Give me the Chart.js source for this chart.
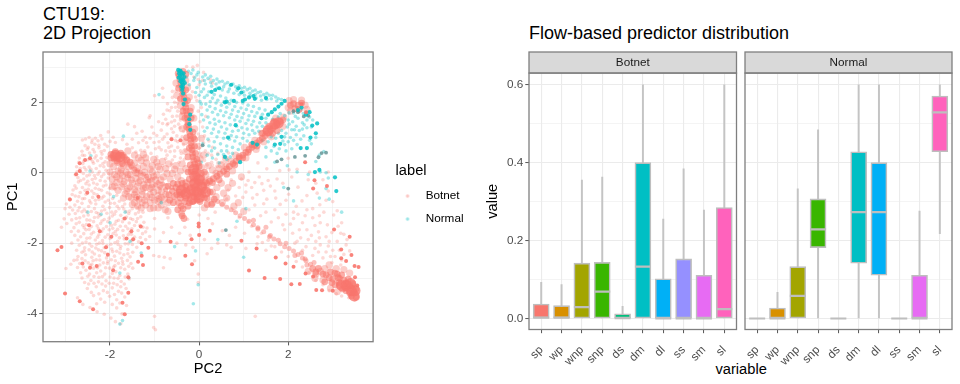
<!DOCTYPE html>
<html>
<head>
<meta charset="utf-8">
<script src="https://cdn.jsdelivr.net/npm/chart.js@4"></script>
<style>
  html, body { margin: 0; padding: 0; background: #fff; }
  body { position: relative; width: 960px; height: 384px; overflow: hidden; font-family: "Liberation Sans", sans-serif; }
  canvas { position: absolute; top: 0; }
  .txt { position: absolute; color: #000; white-space: nowrap; }
</style>
</head>
<body>
<div class="txt" style="left:43px;top:4.5px;font-size:18px;line-height:19.5px">CTU19:<br>2D Projection</div>
<div class="txt" style="left:529px;top:24px;font-size:18px;line-height:19.5px">Flow-based predictor distribution</div>
<div class="txt" style="left:715.5px;top:361px;font-size:14.67px;line-height:17px">variable</div>
<canvas id="projection" width="480" height="384" style="left:0"></canvas>
<canvas id="botnetBox" width="260" height="384" style="left:480px"></canvas>
<canvas id="normalBox" width="220" height="384" style="left:740px"></canvas>
<script>
// labels
const classes = ['Botnet', 'Normal'];
const variables = ['sp', 'wp', 'wnp', 'snp', 'ds', 'dm', 'dl', 'ss', 'sm', 'sl'];
const fillColors = ['#F8766D', '#D89000', '#A3A500', '#39B600', '#00BF7D', '#00BFC4', '#00B0F6', '#9590FF', '#E76BF3', '#FF62BC'];

// ticks
const pc2Ticks = [-3, -2, -1, 0, 1, 2, 3];
const pc1Ticks = [-4, -3, -2, -1, 0, 1, 2, 3];
const valueTicks = [0, 0.1, 0.2, 0.3, 0.4, 0.5, 0.6];
const valueLabelled = [0, 0.2, 0.4, 0.6];

// box plots, one value per variable
const botnetLow = [0, 0, 0, 0, 0, 0, 0, 0, 0, 0];
const botnetQ1 = [0, 0, 0, 0, 0, 0, 0, 0, 0, 0];
const botnetMedian = [0.002, 0.002, 0.029, 0.069, 0.001, 0.133, 0, 0, 0, 0.024];
const botnetQ3 = [0.037, 0.033, 0.142, 0.144, 0.012, 0.4, 0.102, 0.153, 0.111, 0.285];
const botnetHigh = [0.093, 0.087, 0.355, 0.363, 0.031, 0.6, 0.255, 0.384, 0.278, 0.6];

const normalLow = [0, 0, 0, 0, 0, 0, 0, 0, 0, 0.218];
const normalQ1 = [0, 0, 0, 0.182, 0, 0.142, 0.111, 0, 0, 0.428];
const normalMedian = [0, 0, 0.058, 0.229, 0, 0.273, 0.273, 0, 0, 0.529];
const normalQ3 = [0, 0.027, 0.133, 0.307, 0, 0.428, 0.4, 0, 0.111, 0.571];
const normalHigh = [0, 0.067, 0.333, 0.484, 0, 0.6, 0.6, 0, 0.276, 0.6];

// projection points as [PC2, PC1]
const botnetScatter = [
  [-2.62,0.93],[-2.47,1.0],[-2.33,0.98],[-2.21,1.06],[-2.04,1.16],[-1.93,1.01],[-2.56,0.77],[-2.41,0.86],[-2.27,0.91],[-2.12,0.81],[-2.0,0.89],[-2.63,0.61],[-2.51,0.67],[-2.35,0.59],[-2.25,0.71],[-2.13,0.63],
  [-2.69,0.42],[-2.57,0.49],[-2.43,0.38],[-2.31,0.48],[-2.2,0.41],[-2.75,0.17],[-2.61,0.26],[-2.47,0.16],[-2.37,0.27],[-2.22,0.2],[-2.11,0.31],[-2.78,-0.06],[-2.66,0.03],[-2.52,-0.09],[-2.4,0.02],[-2.27,-0.04],[-2.09,0.07],[-2.02,-0.03],
  [-2.71,-0.26],[-2.54,-0.31],[-2.4,-0.19],[-2.29,-0.33],[-2.11,-0.24],[-1.97,-0.3],[-2.83,-0.49],[-2.67,-0.56],[-2.49,-0.47],[-2.36,-0.59],[-2.19,-0.5],[-2.06,-0.57],[-1.89,-0.47],[-2.91,-0.74],[-2.73,-0.81],[-2.57,-0.73],[-2.43,-0.86],[-2.25,-0.76],[-2.11,-0.83],[-1.94,-0.73],[-1.79,-0.81],
  [-3.01,-1.02],[-2.84,-1.06],[-2.69,-0.99],[-2.53,-1.11],[-2.35,-1.02],[-2.19,-1.09],[-2.01,-0.99],[-1.87,-1.1],[-1.69,-1.03],[-1.56,-1.09],[-1.39,-0.99],[-3.03,-1.31],[-2.76,-1.3],[-2.59,-1.23],[-2.45,-1.35],[-2.27,-1.26],[-2.13,-1.33],[-1.95,-1.23],[-1.81,-1.35],[-1.63,-1.26],[-1.49,-1.33],[-1.31,-1.25],
  [-3.09,-1.55],[-2.81,-1.56],[-2.61,-1.49],[-2.47,-1.61],[-2.29,-1.51],[-2.15,-1.59],[-1.97,-1.49],[-1.83,-1.61],[-1.65,-1.52],[-1.51,-1.59],[-1.33,-1.49],[-1.17,-1.57],[-2.79,-1.78],[-2.59,-1.73],[-2.45,-1.85],[-2.25,-1.76],[-2.11,-1.83],[-1.93,-1.73],[-1.79,-1.85],[-1.59,-1.76],[-1.45,-1.83],[-1.27,-1.73],[-1.11,-1.81],
  [-2.86,-2.0],[-2.69,-2.06],[-2.54,-1.97],[-2.41,-2.09],[-2.24,-2.0],[-2.07,-2.07],[-1.89,-1.99],[-1.76,-2.09],[-1.59,-2.02],[-2.63,-2.26],[-2.47,-2.19],[-2.35,-2.31],[-2.19,-2.22],[-2.05,-2.31],[-1.85,-2.23],[-1.69,-2.33],[-1.49,-2.26],[-2.81,-2.49],[-2.63,-2.44],[-2.49,-2.56],[-2.31,-2.47],[-2.15,-2.56],[-1.97,-2.47],[-1.81,-2.57],[-1.61,-2.49],
  [-2.99,-2.72],[-2.73,-2.69],[-2.54,-2.77],[-2.37,-2.71],[-2.21,-2.79],[-2.01,-2.71],[-1.87,-2.81],[-1.67,-2.74],[-1.49,-2.71],[-2.63,-2.99],[-2.43,-3.06],[-2.25,-2.97],[-2.09,-3.07],[-1.91,-2.99],[-1.75,-3.09],[-1.57,-3.02],[-2.51,-3.29],[-2.31,-3.24],[-2.15,-3.35],[-1.95,-3.27],[-1.81,-3.37],[-1.64,-3.29],
  [-2.73,-3.55],[-2.37,-3.49],[-2.21,-3.59],[-2.01,-3.51],[-1.85,-3.61],[-1.67,-3.53],[-2.61,-3.74],[-2.45,-3.83],[-2.29,-3.95],[-2.13,-4.02],[-1.98,-4.13],[-1.85,-3.84],[-1.73,-4.01],[-1.63,-3.77],[-1.88,-4.23],[-1.76,-4.29],[-1.02,-4.4],[-0.98,-4.46],[-1.0,-4.08],[1.26,-4.08],
  [-1.31,0.64],[-1.15,0.73],[-1.36,0.85],[-1.01,0.86],[-1.21,1.01],[-0.95,1.06],[-1.45,1.31],[-1.6,1.38],[-1.06,1.3],[-0.85,1.21],[-0.72,1.36],[-0.91,1.45],[-0.62,1.44],[-1.12,1.56],[-0.8,1.66],[-1.1,1.62],[-0.66,1.76],[-0.5,1.61],[-0.53,1.86],[-0.71,1.96],[-0.81,2.14],[-1.0,2.19],[-0.45,2.09],[-0.6,2.31],[-0.82,2.4],[-0.48,2.45],[-0.72,1.1],[-0.58,1.15],[-0.43,1.28],[-0.7,0.85],[-0.53,0.92],[-0.38,1.02],[-0.85,0.65],[-0.65,0.6],[-0.48,0.72],[-0.35,0.8],[-0.95,0.45],[-0.75,0.4],[-0.55,0.46],[-0.4,0.55],[-0.82,0.2],[-0.62,0.25],[-0.45,0.3],[-0.33,0.38],[-0.7,1.4],[-0.42,1.5],[-0.38,1.82],[-0.55,2.0],[-0.62,0.98],
  [-0.04,3.05],[-0.14,3.0],[-0.28,3.02],[0.1,2.85],[0.25,2.65],[0.0,2.5],[-0.15,2.3],[-0.05,2.05],[0.05,1.85],[-0.12,1.6],[0.08,1.3],[-0.02,1.1],[0.1,0.85],[0.0,0.7],[0.2,0.55],[0.28,0.3],[0.4,0.18],[0.55,0.45],[0.12,0.35],
  [2.0,0.41],[2.2,0.1],[2.48,0.02],[2.62,-0.3],[2.22,-0.41],[2.9,-0.52],[3.0,-0.82],[2.71,-0.91],[2.31,-0.8],[2.01,-0.61],[1.7,-0.52],[1.41,-0.31],[1.12,0.02],[1.52,0.11],[1.81,0.06],[2.08,-0.12],[1.32,0.28],[0.95,-0.18],[1.18,-0.42],[1.52,-0.75],[1.82,-0.9],[2.12,-1.12],[2.42,-1.05],[2.7,-1.22],[3.02,-1.2],[3.12,-1.52],[2.88,-1.48],[2.6,-1.5],[2.32,-1.42],[2.05,-1.46],[1.78,-1.28],[1.5,-1.12],[1.25,-0.92],[0.98,-0.7],[3.25,-1.75],[3.1,-1.95],[2.85,-1.82],[2.52,-1.78],[3.3,-2.05],[3.0,-2.2],[3.38,-2.22],[2.72,-2.05],
  [0.52,-1.65],[0.3,-1.45],[0.68,-1.78],[0.82,-1.55],[1.02,-1.72],[0.42,-2.0],[0.62,-2.05],[0.12,-1.9],[0.28,-2.15],[1.05,-2.15],[1.32,-1.82],[1.62,-2.08],[0.9,-1.28],[1.18,-1.52],[0.72,-2.12],[0.18,-2.3],[-0.02,-2.88],[-0.02,-3.12],[-0.1,-2.5],
  [-1.02,-2.35],[-0.9,-2.38],[-0.78,-2.4],[-0.65,-2.44],[-1.0,-1.6],[-0.8,-1.7],[-0.62,-1.55],[-0.44,-1.72],[-0.32,-1.55],[-0.2,-1.78],[-0.88,-1.95],[-0.5,-2.0],[-0.3,-2.05],[-0.14,-2.12],[-0.8,-2.7],[-1.0,-1.3],[-0.7,-1.28],[-0.26,-1.32],[0.0,-1.2],[0.2,-1.3],[0.36,-1.12],
  [-2.34,0.81],[-2.18,0.96],[-2.49,0.72],[-2.06,0.75],[-1.88,0.86],[-1.72,0.94],[-1.62,0.81],[-1.5,0.71],[-1.42,0.59],[-2.46,0.56],[-2.18,0.53],[-2.39,0.32],[-2.28,0.34],[-2.07,0.43],[-2.59,0.33],[-2.67,0.12],[-2.54,0.08],[-2.31,0.12],[-2.14,0.17],[-2.72,-0.14],[-2.59,-0.18],[-2.46,-0.06],[-2.33,-0.16],[-2.19,-0.11],[-2.04,-0.15],
  [-2.79,-0.37],[-2.62,-0.42],[-2.47,-0.35],[-2.33,-0.44],[-2.15,-0.38],[-2.01,-0.44],[-2.85,-0.62],[-2.7,-0.68],[-2.54,-0.61],[-2.39,-0.7],[-2.29,-0.63],[-2.14,-0.67],[-2.0,-0.61],[-1.85,-0.64],[-2.98,-0.89],[-2.79,-0.92],[-2.63,-0.87],[-2.48,-0.96],[-2.32,-0.89],[-2.16,-0.95],[-1.99,-0.87],[-1.84,-0.95],[-1.67,-0.89],
  [-2.92,-1.18],[-2.78,-1.16],[-2.63,-1.11],[-2.49,-1.2],[-2.31,-1.13],[-2.22,-1.21],[-2.07,-1.15],[-1.9,-1.18],[-1.76,-1.21],[-1.58,-1.16],[-1.43,-1.17],[-1.26,-1.12],[-2.97,-1.44],[-2.69,-1.41],[-2.53,-1.47],[-2.37,-1.39],[-2.21,-1.44],[-2.05,-1.39],[-1.89,-1.46],[-1.72,-1.39],[-1.57,-1.43],[-1.41,-1.39],[-1.24,-1.41],
  [-2.87,-1.67],[-2.71,-1.66],[-2.54,-1.62],[-2.37,-1.69],[-2.19,-1.67],[-2.02,-1.62],[-1.88,-1.67],[-1.71,-1.64],[-1.55,-1.69],[-1.37,-1.64],[-1.2,-1.68],[-2.72,-1.91],[-2.52,-1.86],[-2.33,-1.91],[-2.17,-1.93],[-2.0,-1.87],[-1.83,-1.95],[-1.68,-1.88],[-1.51,-1.93],[-1.36,-1.96],[-1.2,-1.9],
  [-2.75,-2.2],[-2.57,-2.13],[-2.32,-2.14],[-2.13,-2.13],[-1.96,-2.17],[-1.77,-2.16],[-1.6,-2.18],[-1.4,-2.12],[-2.72,-2.38],[-2.55,-2.33],[-2.41,-2.4],[-2.24,-2.36],[-2.08,-2.42],[-1.9,-2.37],[-1.74,-2.43],[-1.55,-2.39],[-2.88,-2.6],[-2.68,-2.58],[-2.41,-2.6],[-2.23,-2.62],[-2.06,-2.58],[-1.89,-2.64],[-1.71,-2.6],[-1.53,-2.58],
  [-2.66,-2.84],[-2.46,-2.88],[-2.3,-2.84],[-2.12,-2.88],[-1.95,-2.86],[-1.78,-2.92],[-1.6,-2.88],[-2.57,-3.12],[-2.36,-3.14],[-2.18,-3.16],[-2.02,-3.14],[-1.84,-3.18],[-1.68,-3.16],[-2.42,-3.4],[-2.25,-3.44],[-2.06,-3.4],[-1.9,-3.46],[-1.74,-3.42],[-2.3,-3.72],[-2.12,-3.68],[-1.95,-3.74],[-1.78,-3.7],
  [-0.78,1.02],[-0.62,0.76],[-0.48,0.88],[-0.9,0.88],[-0.75,0.62],[-0.6,0.36],[-0.42,0.42],[-0.5,1.05],[-0.55,1.32],[-0.35,1.18],[-0.82,1.4],[-0.6,1.6],[-0.4,1.68],[-0.72,1.78],[-0.48,1.98],[-0.6,2.14],[-0.42,2.22],[-0.52,2.32],[-1.02,1.12],[-1.28,1.18],[-1.18,0.85],[-1.08,0.55],[-0.9,0.72],[-1.22,0.62],
  [0.02,0.55],[0.14,0.62],[0.28,0.5],[0.38,0.38],[0.5,0.3],[0.12,1.05],[0.02,1.45],[-0.02,1.75],[0.3,0.72],[0.22,0.9],[0.42,0.55],[0.66,0.56],[0.15,1.6],[-0.08,2.15],[-0.02,2.65],[0.3,2.55],[-0.12,2.72],[0.08,2.62],[2.9,0.02],[2.78,-0.2],[2.45,-0.2],[2.02,0.08],[1.75,-0.18],
  [0.72,-0.2],[0.9,-0.42],[0.65,-0.5],[0.82,-0.66],[1.05,-0.55],[1.3,-0.62],[1.6,-0.38],[1.88,-0.3],[1.35,-0.12],[1.1,-0.22],[1.72,-0.72],[1.95,-0.78],[2.18,-0.95],[2.42,-0.65],[2.65,-0.58],[2.85,-0.78],[2.55,-1.02],[2.8,-1.12],[3.1,-1.08],[2.38,-1.22],[2.12,-1.3],[1.88,-1.48],[1.62,-1.4],[1.38,-1.22],[1.12,-1.05],
  [2.42,-1.62],[2.68,-1.68],[2.98,-1.7],[3.18,-1.72],[2.92,-1.95],[2.7,-1.85],[2.45,-1.9],[2.28,-1.85],[2.1,-1.72],[1.92,-1.62],[2.4,-2.1],[2.6,-2.15],[2.85,-2.25],[3.05,-2.38],[3.25,-2.32],[2.2,-1.95],[2.15,-2.0],[2.78,-2.42],[2.98,-2.55],[3.18,-2.62],[2.55,-2.35],[2.32,-2.2],
  [1.3,-2.02],[1.42,-1.98],[1.55,-1.92],[1.7,-2.1],[1.85,-2.25],[2.0,-2.38],[2.18,-2.52],[2.32,-2.68],[2.46,-2.84],[2.62,-3.06],[2.78,-3.18],[2.92,-3.35],[3.08,-3.44],[3.2,-3.5],[3.36,-3.55],[3.5,-3.62],[1.5,-2.2],[1.4,-1.72],[1.1,-1.4],[0.78,-1.08],[0.62,-0.75],
  [-2.55,0.96],[-2.4,0.93],[-2.25,0.78],[-2.38,0.66],[-2.2,0.6],[-2.62,0.5],[-2.5,0.37],[-2.34,0.42],[-2.16,0.26],[-2.7,0.3],[-2.58,0.15],[-2.43,0.1],[-2.24,0.03],[-2.74,0.03],[-2.6,-0.02],[-2.35,-0.08],[-2.14,-0.04],[-2.66,-0.22],[-2.5,-0.24],[-2.37,-0.29],[-2.22,-0.22],[-2.76,-0.44],[-2.56,-0.5],[-2.41,-0.52],[-2.25,-0.47],[-2.09,-0.35],[-2.78,-0.66],[-2.62,-0.74],[-2.46,-0.8],[-2.33,-0.78],[-2.18,-0.72],[-2.04,-0.78],[-1.9,-0.87],[-1.72,-0.96],[-2.9,-0.98],[-2.72,-1.08],[-2.58,-1.05],[-2.42,-1.1],[-2.26,-1.16],[-2.12,-1.05],[-1.96,-1.12],[-1.8,-1.02],[-1.64,-1.1],[-1.5,-1.02],[-1.36,-1.12],
  [-2.86,-1.34],[-2.68,-1.28],[-2.52,-1.34],[-2.35,-1.27],[-2.18,-1.37],[-2.02,-1.29],[-1.86,-1.38],[-1.7,-1.3],[-1.54,-1.3],[-1.38,-1.3],[-2.76,-1.45],[-2.58,-1.56],[-2.42,-1.53],[-2.26,-1.59],[-2.08,-1.53],[-1.94,-1.58],[-1.77,-1.52],[-1.6,-1.59],[-1.45,-1.5],[-1.26,-1.55],[-2.66,-1.82],[-2.42,-1.74],[-2.28,-1.83],[-2.05,-1.76],[-1.86,-1.77],[-1.7,-1.79],[-1.52,-1.75],[-1.32,-1.84],[-2.62,-2.0],[-2.46,-2.02],[-2.3,-2.03],[-2.16,-2.01],[-1.98,-2.03],[-1.82,-2.04],[-1.66,-2.02],[-1.5,-2.04],[-2.58,-2.22],[-2.4,-2.25],[-2.26,-2.19],[-2.12,-2.27],[-1.94,-2.24],[-1.78,-2.28],[-1.6,-2.3],
  [-2.74,-2.47],[-2.56,-2.5],[-2.38,-2.5],[-2.23,-2.48],[-2.05,-2.52],[-1.88,-2.5],[-1.72,-2.52],[-2.6,-2.68],[-2.44,-2.64],[-2.28,-2.7],[-2.1,-2.7],[-1.92,-2.68],[-1.76,-2.7],[-1.58,-2.66],[-2.5,-2.94],[-2.36,-2.95],[-2.17,-2.95],[-2.0,-2.96],[-1.82,-3.0],[-1.66,-2.96],[-2.48,-3.16],[-2.26,-3.1],[-2.1,-3.22],[-1.92,-3.14],[-1.76,-3.24],
  [-1.5,0.95],[-1.4,1.12],[-1.26,0.92],[-1.1,0.98],[-0.98,0.68],[-0.82,0.95],[-0.68,0.72],[-0.55,0.62],[-0.72,0.5],[-0.42,0.62],[-0.62,1.25],[-0.46,1.38],[-0.75,1.52],[-0.55,1.48],[-0.48,1.75],[-0.62,1.85],[-0.3,0.62],[-0.3,1.38],[0.18,0.22],[0.3,0.22],[0.42,0.28],[1.55,-0.22],[1.25,-0.28],[1.05,-0.35],[1.45,-0.5],[1.2,-0.72],[1.45,-0.88],[1.7,-1.05],[1.95,-1.18],[2.22,-1.18],[2.25,-1.62],[2.72,-1.42],[2.55,-1.28],[3.2,-1.42],[3.32,-1.9],[3.15,-2.2],[2.9,-2.08],[2.62,-1.95],[3.2,-2.48],[2.95,-2.38],[2.68,-2.25]
];

const botnetCloud = [
  [-1.9,0.4],[-1.78,0.28],[-1.64,0.38],[-1.92,0.18],[-1.75,0.1],[-1.58,0.16],[-1.45,0.28],[-1.3,0.35],[-1.18,0.28],[-1.05,0.2],[-1.9,-0.05],[-1.72,-0.08],[-1.55,-0.05],[-1.38,-0.02],[-1.22,0.02],[-1.05,0.02],[-0.88,0.1],[-1.85,-0.28],[-1.68,-0.25],[-1.5,-0.3],[-1.32,-0.22],[-1.15,-0.28],[-0.98,-0.2],[-0.8,-0.12],[-1.82,-0.5],[-1.62,-0.52],[-1.45,-0.48],[-1.28,-0.52],[-1.1,-0.45],[-0.92,-0.5],[-0.75,-0.4],[-1.7,-0.72],[-1.52,-0.7],[-1.35,-0.75],[-1.18,-0.68],[-1.0,-0.78],[-0.85,-0.7],[-1.38,-0.95],[-1.2,-0.92],[-1.02,-1.0],[-0.85,-0.92],[-0.7,-0.85],[-0.95,0.3],[-0.75,0.12],[-0.55,0.1],[-1.45,0.5],[-1.25,0.52],[-1.6,0.62],
  [-1.84,0.3],[-1.7,0.2],[-1.52,0.22],[-1.38,0.14],[-1.25,0.18],[-1.1,0.1],[-1.82,0.05],[-1.64,0.02],[-1.46,0.08],[-1.3,-0.1],[-1.14,-0.12],[-0.95,-0.06],[-1.78,-0.18],[-1.6,-0.15],[-1.42,-0.16],[-1.24,-0.34],[-1.05,-0.34],[-0.88,-0.35],[-1.74,-0.4],[-1.55,-0.4],[-1.38,-0.38],[-1.2,-0.42],[-1.02,-0.55],[-0.84,-0.55],[-1.66,-0.6],[-1.45,-0.62],[-1.28,-0.62],[-1.1,-0.62],[-0.92,-0.65],[-1.45,-0.85],[-1.28,-0.85],[-1.1,-0.85],[-0.92,-0.82],[-0.78,-0.75],[-2.0,0.25],[-2.0,0.02],[-1.95,-0.18],[-1.95,-0.4],
  [0.15,-0.05],[0.3,0.08],[0.2,0.2],[0.1,0.5],[0.05,0.15],[0.45,0.12],[0.38,-0.02],[0.6,0.18],[0.22,-0.2],[0.5,-0.3],[0.75,-0.3],[0.95,-0.12],[0.3,-0.55],[0.55,-0.58],[0.3,-0.85],[0.52,-0.85],[0.78,-0.95],[1.0,-1.1],[0.12,-1.0],[-0.4,-1.15],[-0.7,-1.1],[0.75,0.05],[0.6,0.38],
  [0.4,-0.42],[0.65,-0.42],[0.18,-0.35],[0.38,-0.68],[0.62,-0.72],[0.88,-0.85],[0.02,0.4],[-0.3,0.12],[-0.38,0.25],[-0.3,0.6],[-0.02,0.75],[0.05,0.98],[-0.32,0.88],[-0.38,1.25],[-0.1,1.25],[-0.12,1.55],[-0.38,1.6],[-0.18,1.85],[-0.42,1.9],[-0.22,2.15],[-0.5,2.2],[-0.26,2.42],[-0.52,2.55],[-0.3,2.62],
  [2.72,-2.8],[2.82,-2.72],[2.62,-2.88],[2.92,-2.62],[3.08,-2.72],[3.25,-2.75],[3.38,-2.85],[2.78,-3.05],[2.95,-3.28],[3.1,-3.38],[2.6,-3.0],[2.45,-2.8],
  [1.02,0.72],[1.25,0.92],[1.4,1.12],[1.55,1.3],[1.45,0.88],[1.62,1.02],[1.28,0.66],[1.05,0.42],[0.82,0.5],[0.72,0.32],[0.5,0.22],[1.88,1.32],[1.9,1.58],[1.72,1.55],[2.02,2.05],[2.12,2.08],[2.3,2.06],[2.38,1.92],[2.0,1.85],[2.42,1.8],[2.05,1.75],
  [-1.76,0.0],[-1.6,-0.05],[-1.42,0.0],[-1.85,-0.12],[-1.7,-0.32],[-1.52,-0.2],[-1.36,-0.28],[-1.18,-0.2],[-1.02,-0.1],[-1.9,-0.38],[-1.6,-0.45],[-1.42,-0.55],[-1.25,-0.44],[-1.06,-0.42],[-0.86,-0.2],[-1.58,-0.68],[-1.4,-0.7],[-1.22,-0.78],[-1.06,-0.7],[-0.9,-0.74],[-0.75,-0.62],[-1.3,-1.0],[-1.1,-1.02],[-0.92,-1.0],[-0.76,-1.05],[-1.5,-0.9],[-1.2,0.42],[-1.02,0.38],[-0.82,0.32],[-1.36,0.42],[-0.92,0.18],[-0.68,0.25],[-0.6,-0.02],[-0.48,-0.12],[-0.65,-0.18],[-0.42,0.05],[-0.52,0.2],[-0.4,-0.22],[-0.72,-0.02]
];

// thin arms: blob towards the hub, hub towards the lower right corner
const botnetBand = [
  [-0.62,-0.42],[-0.75,-0.48],[-0.82,-0.32],[-0.88,-0.42],[-0.92,-0.28],[-0.98,-0.35],[-1.05,-0.18],[-1.12,-0.22],[-1.18,-0.1],[-1.25,-0.04],[-1.32,0.02],[-1.38,0.06],[-1.45,0.1],[-1.52,0.16],[-1.58,0.24],[-1.65,0.3],
  [0.42,-0.82],[0.52,-0.9],[0.62,-0.98],[0.72,-1.05],[0.82,-1.14],[0.92,-1.22],[1.02,-1.3],[1.12,-1.38],[1.22,-1.48],[1.32,-1.56],[1.45,-1.68],[1.58,-1.82],[1.68,-1.88],[1.82,-2.02],[1.92,-2.1],[2.02,-2.15],[2.12,-2.22],[2.22,-2.32],[2.32,-2.42],[2.4,-2.5],[2.5,-2.6],
  [1.22,-1.35],[1.5,-1.55],[1.32,-1.6],[1.6,-1.78],[1.78,-1.92],[1.95,-2.0],[2.15,-2.35],[2.3,-2.28],[2.42,-2.62],[2.58,-2.55],[2.38,-2.45]
];

const botnetDense = [
  [-0.06,-0.35],[-0.08,-0.15],[-0.09,0.05],[-0.1,0.25],[-0.14,0.45],[-0.16,0.65],[-0.18,0.85],[-0.2,1.05],[-0.23,1.25],[-0.25,1.45],[-0.27,1.65],[-0.3,1.85],[-0.33,2.05],[-0.36,2.25],[-0.39,2.45],[-0.43,2.65],[-0.47,2.82],[-0.36,2.88],[-0.3,2.8],
  [-0.04,-0.25],[-0.1,-0.05],[-0.07,0.15],[-0.12,0.35],[-0.15,0.55],[-0.17,0.75],[-0.19,0.95],[-0.21,1.15],[-0.24,1.35],[-0.26,1.55],[-0.29,1.75],[-0.31,1.95],[-0.34,2.15],[-0.38,2.35],[-0.41,2.55],[-0.45,2.75],[-0.14,1.15],[-0.28,1.3],[-0.2,1.75],[-0.36,1.75],[-0.26,2.05],[-0.42,2.1],[-0.3,2.35],[-0.46,2.4],
  [-0.02,0.0],[-0.18,0.02],[0.0,0.18],[-0.2,0.22],[-0.05,0.38],[-0.22,-0.18],[0.06,-0.15],[-0.25,0.45],[-0.08,0.55],[-0.13,1.0],[-0.28,1.0],[-0.18,1.55],[-0.32,1.55],[0.05,-0.02],[-0.25,0.02],[-0.15,-0.28],[-0.02,0.28],[-0.22,0.7],[-0.1,0.75],[-0.1,0.95],[0.12,0.02],[0.14,-0.25],[0.02,-0.28],[-0.3,-0.28],
  [0.1,-0.35],[0.24,-0.24],[0.4,-0.1],[0.55,0.04],[0.68,0.18],[0.83,0.33],[0.98,0.5],[1.12,0.66],[1.24,0.78],[1.36,0.92],[1.48,1.05],[1.6,1.2],[1.7,1.33],[1.82,1.46],[1.68,1.45],[1.75,1.2],[1.5,1.18],[1.18,0.8],[0.9,0.46],
  [0.17,-0.3],[0.32,-0.17],[0.47,-0.03],[0.62,0.11],[0.76,0.26],[0.9,0.41],[1.05,0.58],[1.18,0.72],[1.3,0.85],[1.42,0.98],[1.54,1.12],[1.65,1.26],[1.76,1.4],[1.58,1.32],[1.42,1.12],[1.1,0.58],[0.8,0.22],[0.3,-0.28],[0.45,-0.2],[0.62,-0.04],[1.3,0.76],[1.65,1.12],[1.88,1.5],[0.98,0.42],
  [0.0,-0.45],[-0.08,-0.58],[-0.02,-0.68],[-0.15,-0.55],[-0.22,-0.65],[-0.05,-0.78],[0.08,-0.62],[0.18,-0.72],[-0.28,-0.48],[-0.12,-0.42],[0.12,-0.5],[-0.35,-0.6],[-0.38,-0.42],[-0.45,-0.55],[-0.52,-0.42],[-0.6,-0.52],[-0.7,-0.38],
  [0.04,-0.55],[-0.05,-0.48],[-0.12,-0.68],[-0.3,-0.72],[-0.2,-0.42],[0.12,-0.72],[0.02,-0.82],[-0.14,-0.82],[-0.42,-0.62],[-0.3,-0.38],[-0.5,-0.62],[-0.58,-0.3],[-0.48,-0.32],[-0.38,-0.3],
  [-0.42,-0.72],[-0.55,-0.68],[-0.68,-0.62],[-0.32,-0.82],[-0.36,-1.02],[-0.38,-1.22],[-0.4,-0.95],[-0.25,-0.95],[-0.58,-0.85],[0.25,-0.55],[0.18,-0.9],[0.34,-0.75],[-0.48,-1.05],[-0.34,-1.3],[-0.46,-0.85],[-0.22,-0.85],[-0.66,-0.78],[0.28,-0.9],
  [-1.98,0.52],[-1.88,0.6],[-1.8,0.48],[-1.92,0.42],[-1.76,0.56],[-1.68,0.44],[-1.85,0.34],[-1.98,0.42],[-1.72,0.26],[-1.9,0.5],[-1.82,0.42],[-1.72,0.5],[-1.62,0.36],[-1.55,0.3],
  [2.68,-2.72],[2.85,-2.9],[3.0,-3.02],[3.14,-3.12],[3.3,-3.28],[3.45,-3.42],[3.53,-3.54],
  [3.05,-2.85],[3.2,-2.9],[3.35,-3.02],[3.45,-3.15],[3.52,-3.3],[3.15,-3.0],[3.3,-3.12],[3.42,-3.28],[2.92,-2.98],[3.05,-3.18],[3.22,-3.3],[3.38,-3.42],[2.82,-3.1],[2.62,-2.82],
  [3.12,-2.98],[3.25,-3.05],[3.38,-3.2],[3.48,-3.4],[3.28,-3.22],[3.15,-3.2],[3.42,-3.5],[2.98,-3.12],[2.78,-2.88],[2.95,-2.82],[3.1,-2.88],[3.3,-3.35],[2.55,-2.72],
  [2.12,1.96],[2.22,1.92],[2.3,1.98],[2.15,1.82],[2.05,1.92],[2.25,1.8]
];

// the solid middles: hub, tip of the right arm, lower right corner
const botnetSolid = [
  [-0.05,-0.55],[0.05,-0.4],[-0.18,-0.5],[-0.1,-0.3],[0.0,-0.7],[-0.3,-0.6],[-0.1,-0.1],[-0.12,0.1],[-0.4,-0.5],[0.15,-0.55],[-0.15,-0.75],[0.0,-0.2],
  [3.3,-3.2],[3.42,-3.35],[3.48,-3.5],[3.2,-3.2],[3.4,-3.15],[3.5,-3.35],
  [-1.88,0.5],[-1.78,0.45],[1.55,1.2],[1.7,1.38],[1.78,1.42]
];

const botnetHeavy = [
  [-2.68,0.05],[-2.76,-0.04],[-2.68,0.27],[-2.56,0.36],[-2.45,0.41],[-2.9,-0.76],[-2.51,-0.57],[-2.26,-0.68],[-3.09,-2.11],[-3.18,-2.2],[-3.01,-3.43],[-2.68,-3.65],[-2.38,-3.88],[-1.67,-4.02],[-1.72,-3.69],[-1.59,-3.41],[-1.59,-2.97],[-1.93,-2.77],[-2.45,-2.7],[-2.62,-2.58],[-2.09,-2.12],[-1.97,-1.82],[-1.63,-1.87],[-1.48,-1.89],[-1.29,-2.0],[-1.14,-2.13],[-1.26,-2.62],[-1.37,-2.53],[-1.29,-2.36],[-1.31,-1.53],[-1.52,-1.66],[-1.67,-1.3],[-2.23,-1.66],[-2.47,-1.49],
  [-0.64,-1.96],[-0.17,-1.89],[-0.16,-2.6],[-0.31,-2.36],[0.0,-1.77],[-0.01,-1.53],[-0.01,-1.44],[0.24,-1.65],[0.95,-1.93],[1.29,-2.15],[1.72,-2.41],[1.12,-2.78],[1.47,-2.99],[1.82,-3.02],[1.94,-2.58],[2.07,-3.17],[2.12,-2.67],[2.26,-3.16],[2.39,-2.86],[2.56,-2.95],[2.63,-3.33],[2.76,-3.34],[3.0,-3.35],[3.38,-1.82],[3.19,-2.18],[3.42,-2.34],[3.19,-2.43],[3.3,-2.51],[3.49,-2.65],[3.03,-1.61],[2.59,-0.21],[2.87,-0.38],
  [2.38,0.3],[2.56,-0.45],[3.58,-2.68],[3.5,-2.97],[3.55,-3.2],[-2.3,-2.65],[-2.05,-2.33],[-0.42,0.92],[-1.38,-0.72],[-0.62,0.95],[2.3,1.95],[2.4,1.72]
];

const normalScatter = [
  [-0.18,2.82],[-0.05,2.78],[0.08,2.72],[0.2,2.68],[0.32,2.62],[0.45,2.58],[0.58,2.52],[0.7,2.48],[0.82,2.44],[0.95,2.4],[1.08,2.36],[1.2,2.32],[1.32,2.28],[1.45,2.22],[1.58,2.2],[1.72,2.15],[1.85,2.08],
  [-0.12,2.62],[0.02,2.58],[0.14,2.52],[0.28,2.46],[0.4,2.4],[0.52,2.35],[0.65,2.3],[0.78,2.26],[0.9,2.22],[1.02,2.2],[1.15,2.18],[1.28,2.12],[1.4,2.06],[1.52,2.08],
  [-0.05,2.42],[0.1,2.38],[0.22,2.3],[0.34,2.22],[0.48,2.18],[0.6,2.12],[0.72,2.06],[0.84,2.0],[0.98,1.98],[1.1,1.92],[1.22,1.88],[1.35,1.82],[1.48,1.78],
  [0.0,2.2],[0.12,2.14],[0.25,2.02],[0.38,1.98],[0.5,1.92],[0.62,1.86],[0.75,1.78],[0.88,1.74],[1.0,1.68],[1.12,1.62],[1.25,1.6],[1.38,1.58],
  [0.05,1.95],[0.18,1.78],[0.3,1.72],[0.42,1.65],[0.55,1.62],[0.68,1.56],[0.8,1.5],[0.92,1.46],[1.05,1.4],[1.18,1.36],[1.3,1.3],[1.42,1.32],
  [0.1,1.5],[0.24,1.42],[0.36,1.38],[0.5,1.3],[0.62,1.24],[0.75,1.18],[0.88,1.2],[1.0,1.12],[1.12,1.08],[1.25,1.12],[0.12,1.18],[0.28,1.12],[0.4,1.02],[0.55,0.98],[0.68,0.95],[0.8,0.9],[0.92,0.82],
  [0.08,0.82],[0.22,0.76],[0.35,0.7],[0.5,0.62],[0.62,0.62],[0.75,0.55],[0.18,0.5],[0.3,0.42],[0.45,0.28],[0.62,0.38],[0.05,0.3],
  [-0.28,2.72],[-0.1,2.7],[0.12,2.62],[0.26,2.56],[0.38,2.52],[0.55,2.44],[0.68,2.38],[0.85,2.34],[1.0,2.3],[1.14,2.26],[1.26,2.22],[1.38,2.18],[1.5,2.15],[1.62,2.1],[1.74,2.04],[-0.22,2.5],[-0.08,2.28],[0.05,2.3],[0.18,2.2],[0.3,2.12],[0.42,2.06],[0.56,2.02],[0.68,1.96],[0.8,1.88],[0.94,1.84],[1.06,1.8],[1.18,1.74],[1.3,1.7],[1.42,1.66],
  [0.02,2.02],[0.15,1.95],[0.24,1.88],[0.36,1.82],[0.48,1.76],[0.6,1.72],[0.72,1.66],[0.85,1.6],[0.96,1.56],[1.1,1.5],[1.22,1.46],[1.36,1.42],[1.5,1.42],[0.06,1.65],[0.2,1.58],[0.34,1.52],[0.45,1.46],[0.58,1.42],[0.7,1.36],[0.84,1.32],[0.96,1.28],[1.08,1.24],[1.2,1.2],[1.34,1.18],[0.18,1.28],[0.32,1.24],[0.44,1.16],[0.58,1.12],[0.72,1.06],[0.84,1.02],[0.98,0.98],[1.08,0.9],[0.2,0.95],[0.34,0.88],[0.48,0.82],[0.62,0.76],[0.75,0.72],[0.88,0.66],[0.28,0.62],[0.42,0.52],[0.55,0.52],[0.7,0.45],
  [-0.24,2.88],[-0.14,2.92],[-0.02,2.85],[0.14,2.78],[0.26,2.74],[0.4,2.66],[0.52,2.6],[0.64,2.56],[0.76,2.52],[0.9,2.47],[1.02,2.43],[1.14,2.4],[1.26,2.35],[1.38,2.3],[1.52,2.26],[1.65,2.2],[1.78,2.1],
  [1.42,0.92],[1.55,0.88],[1.68,0.75],[1.8,0.68],[1.92,0.8],[2.05,1.0],[2.18,1.08],[1.85,1.2],[1.98,1.3],[2.1,1.45],[2.22,1.55],[2.32,1.42],[2.42,1.28],[2.25,1.2],[2.35,1.05],[1.72,0.98],[2.02,1.7],[2.2,0.8],[1.62,1.02],[1.78,1.12],[1.95,1.12],[2.08,1.22],[2.18,1.32],[2.0,1.5],[1.5,1.55],[1.65,1.52],[1.82,1.68],[1.95,0.62],[2.08,0.68],[2.32,1.24],
  [1.5,0.72],[1.62,0.62],[1.75,0.55],[1.88,0.9],[2.0,0.88],[2.12,0.92],[2.28,0.95],[1.92,1.02],[2.14,1.22],[2.02,1.38],[2.16,1.6],[1.92,1.62],[1.78,1.58],
  [2.12,1.7],[2.2,1.85],[2.28,1.78],[2.34,1.68],[2.42,1.72],[2.48,1.58],[2.52,1.3],[2.62,1.0],[2.48,0.92],[2.52,0.82],[2.42,1.5],[2.55,1.5],[2.36,1.36],
  [1.5,0.45],[1.7,0.3],[1.98,0.2],[2.2,0.02],[2.45,-0.05],[2.62,0.32],[2.7,0.5],[2.8,0.6],[2.72,0.02],[2.85,0.0],[2.9,-0.15],[2.85,-0.45],[2.92,-0.75],[3.2,-1.12],[2.7,-0.72],[1.9,-0.42],[2.12,-0.8],[1.05,-1.02],[0.85,-1.38],[0.42,-1.9],[1.0,-2.4],[-0.85,-0.85],[-2.0,-1.42],[-1.58,-2.98],[-1.78,-2.85],[-1.3,-2.28],[-2.43,0.48],[-2.45,0.05],[-1.7,1.04],[-0.9,2.22],[-0.08,-2.22],[-0.02,-3.18],[-0.13,-3.72],[-1.72,-4.2],[-1.78,-4.3],[-1.92,-0.68],[-2.2,-1.18],[-1.66,-1.12],[-0.55,-2.1],[-2.5,-1.12],[-1.55,-1.95]
];

const normalHeavy = [
  [-0.47,2.92],[-0.45,2.82],[-0.43,2.75],[-0.41,2.65],[-0.39,2.55],[-0.4,2.45],[-0.38,2.35],[-0.36,2.25],[-0.44,2.88],[-0.35,2.82],[-0.37,2.66],[-0.32,2.55],[-0.33,2.72],[-0.42,2.9],[-0.36,2.5],[-0.38,2.78],[-0.42,2.6],[-0.35,2.62],[-0.46,2.7],[-0.4,2.85],[-0.37,2.42],
  [-0.22,1.52],[-0.22,1.38],[-0.2,1.22],[-0.35,1.95],[-0.32,2.08],
  [0.28,2.3],[0.36,2.35],[0.45,2.4],[0.58,2.0],[0.62,2.02],[0.78,2.04],[0.98,2.04],[1.03,2.08],[1.12,2.14],[1.22,2.18],[1.55,1.65],[1.63,1.72],[1.7,1.8],[1.78,1.88],[1.85,1.96],[1.92,2.04],[1.4,1.55],[1.5,2.12],[0.72,2.5],[0.88,2.4],[0.95,2.28],[1.25,2.1],
  [2.65,1.4],[2.54,1.34],[2.4,1.65],[2.48,1.72],[2.3,1.85],[2.22,1.78],[1.7,0.8],[1.82,0.82],[1.85,1.02],[1.2,0.85],[1.3,0.8],[0.92,0.3],[0.58,0.45],[-0.2,1.65],[0.82,1.35],[0.65,1.0],
  [3.05,-0.13],[3.08,-0.52],[2.7,0.08],[2.6,0.02],[2.42,0.7],[2.28,0.7],[2.5,1.0],[2.62,1.12]
];

const normalGrey = [
  [2.75,0.56],[2.85,0.57],[2.68,0.44],[2.38,0.48],[2.15,0.45],[1.75,0.32],[1.85,0.38],[2.12,1.75],[2.22,1.72],[2.35,1.6],[2.45,1.62],[0.6,-1.63],[0.08,0.78],[2.0,-0.45]
];

// legend dot sits left in a wide image, the label keeps its place
function dotImage(color) {
  const c = document.createElement('canvas');
  c.width = 24; c.height = 6;
  const g = c.getContext('2d');
  g.fillStyle = color;
  g.beginPath(); g.arc(6.2, 3, 1.7, 0, Math.PI * 2); g.fill();
  return c;
}

// frame round the panel, grey facet strip over it
const panelFrame = {
  id: 'panelFrame',
  beforeDraw(chart) {
    const a = chart.chartArea, ctx = chart.ctx, s = chart.options.plugins.title;
    if (s.display) {
      ctx.save();
      ctx.fillStyle = '#D9D9D9';
      ctx.fillRect(a.left, 52, a.right - a.left, a.top - 52);
      ctx.restore();
    }
  },
  afterDraw(chart) {
    const a = chart.chartArea, ctx = chart.ctx, s = chart.options.plugins.title;
    ctx.save();
    ctx.strokeStyle = '#7f7f7f';
    ctx.lineWidth = 1.3;
    ctx.strokeRect(a.left, a.top, a.right - a.left, a.bottom - a.top);
    if (s.display) ctx.strokeRect(a.left, 52, a.right - a.left, a.top - 52);
    ctx.restore();
  }
};

const tickFont = { family: 'Liberation Sans', size: 11.73 };
const titleFont = { family: 'Liberation Sans', size: 14.67 };

function pts(list, color, alpha, r, order, label) {
  const c = Chart.helpers.color(color).alpha(alpha).rgbString();
  return { label: label, data: list.map(p => ({ x: p[0], y: p[1] })), backgroundColor: c, borderWidth: 0, pointRadius: r, order: order };
}

function majorGrid(isMajor) {
  return {
    color: '#EBEBEB',
    lineWidth: ctx => isMajor(ctx.tick.value) ? 1.1 : 0.55,
    tickLength: 3.7,
    tickColor: ctx => isMajor(ctx.tick.value) ? '#555555' : 'rgba(0,0,0,0)',
    tickWidth: 1
  };
}

new Chart(document.getElementById('projection'), {
  type: 'scatter',
  data: {
    datasets: [
      pts(botnetScatter, '#F8766D', 0.28, 1.8, 10, classes[0]),
      pts(botnetCloud, '#F8766D', 0.36, 3.6, 9, 'Botnet cloud'),
      pts(botnetBand, '#F8766D', 0.45, 2.5, 8, 'Botnet arms'),
      pts(normalScatter, '#00BFC4', 0.36, 1.8, 7, classes[1]),
      pts(botnetDense, '#F8766D', 0.6, 3.4, 6, 'Botnet dense'),
      pts(botnetSolid, '#F8766D', 0.75, 5.5, 5, 'Botnet solid'),
      pts(normalGrey, '#5E8F90', 0.8, 1.9, 4, 'Both'),
      pts(normalHeavy, '#00BFC4', 0.85, 2.1, 3, 'Normal dense'),
      pts(botnetHeavy, '#F8766D', 0.9, 2, 2, 'Botnet spots')
    ]
  },
  options: {
    responsive: false,
    animation: false,
    layout: { autoPadding: false, padding: { top: 52, right: 6.5 } },
    plugins: {
      tooltip: { enabled: false },
      legend: {
        position: 'right',
        align: 'start',
        title: { display: true, text: 'label', color: '#000', font: titleFont, position: 'start', padding: { top: 111.7, bottom: -2.4 } },
        labels: {
          font: tickFont,
          color: '#000',
          usePointStyle: true,
          pointStyleWidth: 13,
          padding: 11.27,
          generateLabels: () => classes.map((name, i) => ({
            text: name,
            fontColor: '#000',
            lineWidth: 0,
            hidden: false,
            pointStyle: dotImage(i === 0 ? 'rgba(248,118,109,0.4)' : 'rgba(0,191,196,0.4)'),
            datasetIndex: i === 0 ? 0 : 3
          }))
        }
      }
    },
    scales: {
      x: {
        type: 'linear',
        min: -3.505,
        max: 3.906,
        afterBuildTicks: s => { s.ticks = pc2Ticks.map(v => ({ value: v })); },
        afterFit: s => { s.height = 42.3; },
        ticks: { font: tickFont, color: '#4D4D4D', padding: 2, maxRotation: 0, autoSkip: false, callback: v => v % 2 === 0 ? String(v) : '' },
        grid: majorGrid(v => v % 2 === 0),
        border: { display: false },
        title: { display: true, text: 'PC2', color: '#000', font: titleFont, padding: { top: 0, bottom: 6 } }
      },
      y: {
        min: -4.8,
        max: 3.43,
        afterBuildTicks: s => { s.ticks = pc1Ticks.map(v => ({ value: v })); },
        afterFit: s => { s.width = 43; },
        ticks: { font: tickFont, color: '#4D4D4D', padding: 2, autoSkip: false, callback: v => v % 2 === 0 ? String(v) : '' },
        grid: majorGrid(v => v % 2 === 0),
        border: { display: false },
        title: { display: true, text: 'PC1', color: '#000', font: titleFont, padding: { top: 4, bottom: 0 } }
      },
      // empty axis, only keeps the legend away from the panel
      gap: {
        position: 'right',
        display: true,
        afterFit: s => { s.width = 22.5; },
        ticks: { display: false },
        grid: { display: false },
        border: { display: false }
      }
    }
  },
  plugins: [panelFrame]
});

function facet(canvasId, name, yWidth, showY, low, q1, median, q3, high) {
  const rows = variables.map((v, i) => i);
  return new Chart(document.getElementById(canvasId), {
    type: 'bar',
    data: {
      datasets: [
        {
          type: 'bar',
          data: rows.map(i => ({ x: i, y: [low[i], high[i]] })),
          backgroundColor: '#C4C4C4',
          barThickness: 1.3,
          grouped: false,
          order: 3
        },
        {
          type: 'bar',
          data: rows.map(i => ({ x: i, y: [q1[i], q3[i]] })),
          backgroundColor: fillColors,
          borderColor: '#BEBEBE',
          borderWidth: 1.6,
          borderSkipped: false,
          barThickness: 16,
          grouped: false,
          order: 2
        },
        {
          type: 'scatter',
          data: rows.map(i => ({ x: i, y: median[i] })),
          pointStyle: 'line',
          pointRadius: 8,
          borderColor: '#BEBEBE',
          pointBorderColor: '#BEBEBE',
          pointBorderWidth: 2.2,
          showLine: false,
          order: 1
        }
      ]
    },
    options: {
      responsive: false,
      animation: false,
      layout: { autoPadding: false, padding: { top: 52, right: canvasId === 'botnetBox' ? 3.5 : 8 } },
      plugins: {
        legend: { display: false },
        tooltip: { enabled: false },
        title: { display: true, text: name, fullSize: false, color: '#1A1A1A', font: { family: 'Liberation Sans', size: 11.73, weight: 'normal' }, padding: 3.5 }
      },
      scales: {
        x: {
          type: 'linear',
          offset: false,
          min: -0.6,
          max: 9.6,
          afterBuildTicks: s => { s.ticks = rows.map(i => ({ value: i })); },
          // rotated labels must not shrink the panel
          afterFit: s => { s.height = 54.5; s.paddingLeft = 0; s.paddingRight = 0; },
          ticks: { font: tickFont, color: '#4D4D4D', padding: 10, minRotation: 45, maxRotation: 45, autoSkip: false, callback: v => variables[v] },
          grid: { offset: false, color: '#EBEBEB', lineWidth: 1.1, tickLength: 3.7, tickColor: '#555555', tickWidth: 1 },
          border: { display: false }
        },
        y: {
          min: -0.0283,
          max: 0.63,
          afterBuildTicks: s => { s.ticks = valueTicks.map(v => ({ value: v })); },
          afterFit: s => { s.width = yWidth; },
          ticks: { display: showY, font: tickFont, color: '#4D4D4D', padding: 2, autoSkip: false, callback: v => valueLabelled.includes(v) ? v.toFixed(1) : '' },
          grid: {
            color: '#EBEBEB',
            lineWidth: ctx => valueLabelled.includes(ctx.tick.value) ? 1.1 : 0.55,
            drawTicks: showY,
            tickLength: 3.7,
            tickColor: ctx => valueLabelled.includes(ctx.tick.value) ? '#555555' : 'rgba(0,0,0,0)',
            tickWidth: 1
          },
          border: { display: false },
          title: { display: showY, text: 'value', color: '#000', font: titleFont, padding: { top: 4, bottom: 0 } }
        }
      }
    },
    plugins: [panelFrame]
  });
}

facet('botnetBox', classes[0], 49, true, botnetLow, botnetQ1, botnetMedian, botnetQ3, botnetHigh);
facet('normalBox', classes[1], 5, false, normalLow, normalQ1, normalMedian, normalQ3, normalHigh);
</script>
</body>
</html>
